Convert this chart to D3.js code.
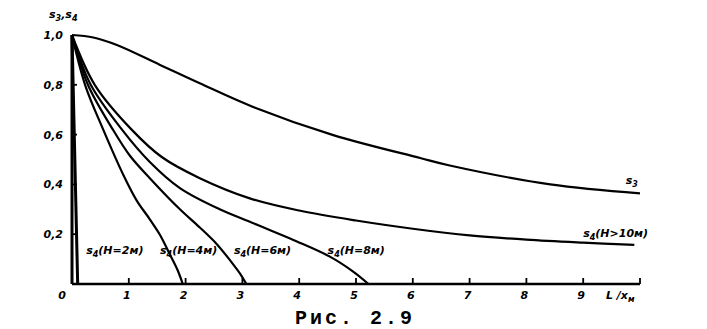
<!DOCTYPE html>
<html>
<head>
<meta charset="utf-8">
<script src="https://cdn.jsdelivr.net/npm/d3@7"></script>
<style>
  body { margin: 0; background: #fff; }
  svg text { fill: #000; }
  .lbl { font-family: "DejaVu Sans", sans-serif; font-style: italic; font-weight: bold; font-size: 11px; }
</style>
</head>
<body>
<div id="chart"></div>
<script>
// curves: [L/x, s]
const s3 = [[0,1],[0.375,0.99],[0.79,0.96],[1.55,0.88],[2.25,0.806],[3.2,0.71],[4.6,0.598],[6.13,0.506],[6.65,0.476],[8.42,0.40],[10,0.364]];
const s4H2 = [[0,1],[0.1,0]];
const s4H4 = [[0,1],[0.23,0.8],[0.55,0.62],[0.9,0.44],[1.14,0.335],[1.37,0.26],[1.55,0.197],[1.72,0.12],[1.86,0.055],[1.95,0]];
const s4H6 = [[0,1],[0.28,0.8],[0.72,0.62],[1.02,0.515],[1.37,0.425],[1.9,0.3],[2.25,0.227],[2.55,0.16],[2.8,0.09],[2.97,0.038],[3.07,0]];
const s4H8 = [[0,1],[0.33,0.8],[0.88,0.62],[1.37,0.49],[1.9,0.385],[2.6,0.3],[3.13,0.25],[3.5,0.215],[3.95,0.172],[4.54,0.11],[4.95,0.05],[5.22,0]];
const s4H10 = [[0,1],[0.4,0.8],[1.05,0.62],[1.58,0.51],[2.25,0.425],[3.13,0.344],[4,0.295],[5,0.255],[6,0.222],[7,0.195],[8,0.178],[9,0.166],[9.9,0.157]];

const xTicks = [1,2,3,4,5,6,7,8,9];
const yTicks = [0.2,0.4,0.6,0.8];
const yTickLabels = ["0,2","0,4","0,6","0,8"];

// curve labels: [text, subscript, rest, x, y]
const curveLabels = [
  ["s", "4", "(H=2м)", 0.25, 0.12],
  ["s", "4", "(H=4м)", 1.55, 0.12],
  ["s", "4", "(H=6м)", 2.85, 0.12],
  ["s", "4", "(H=8м)", 4.5, 0.12],
  ["s", "4", "(H>10м)", 9.0, 0.19],
  ["s", "3", "", 9.75, 0.40]
];

const W = 707, H = 329;
const svg = d3.select("#chart").append("svg").attr("width", W).attr("height", H);

const x = d3.scaleLinear().domain([0, 10]).range([72, 640]);
const y = d3.scaleLinear().domain([0, 1]).range([284, 35]);

const line = d3.line().x(d => x(d[0])).y(d => y(d[1])).curve(d3.curveCatmullRom.alpha(0.5));

// axes
svg.append("line").attr("x1", x(0)).attr("x2", x(0)).attr("y1", y(0)).attr("y2", y(1))
  .attr("stroke", "#000").attr("stroke-width", 3);
svg.append("line").attr("x1", x(0)).attr("x2", x(10)).attr("y1", y(0)).attr("y2", y(0))
  .attr("stroke", "#000").attr("stroke-width", 2.5);

svg.selectAll(".xt").data(xTicks.concat([10])).enter().append("line")
  .attr("x1", d => x(d)).attr("x2", d => x(d)).attr("y1", y(0)).attr("y2", y(0) - 6)
  .attr("stroke", "#000").attr("stroke-width", 1.8);
svg.selectAll(".yt").data(yTicks).enter().append("line")
  .attr("x1", x(0)).attr("x2", x(0) + 5).attr("y1", d => y(d)).attr("y2", d => y(d))
  .attr("stroke", "#000").attr("stroke-width", 1.8);

svg.selectAll(".xl").data(xTicks).enter().append("text").attr("class", "lbl")
  .attr("x", d => x(d) - 2).attr("y", y(0) + 15).attr("text-anchor", "middle").text(d => d);
svg.selectAll(".yl").data(yTicks).enter().append("text").attr("class", "lbl")
  .attr("x", x(0) - 9).attr("y", d => y(d) + 4).attr("text-anchor", "end")
  .text((d, i) => yTickLabels[i]);
svg.append("text").attr("class", "lbl").attr("x", x(0) - 9).attr("y", y(1) + 4)
  .attr("text-anchor", "end").text("1,0");
svg.append("text").attr("class", "lbl").attr("x", x(0) - 6).attr("y", y(0) + 15)
  .attr("text-anchor", "end").text("0");

// axis titles
const yt = svg.append("text").attr("class", "lbl").attr("x", 49).attr("y", 18);
yt.append("tspan").text("s");
yt.append("tspan").attr("font-size", "8px").attr("dy", 3).text("3");
yt.append("tspan").attr("dy", -3).text(",s");
yt.append("tspan").attr("font-size", "8px").attr("dy", 3).text("4");

const xt = svg.append("text").attr("class", "lbl").attr("x", 606).attr("y", y(0) + 15);
xt.append("tspan").text("L /x");
xt.append("tspan").attr("font-size", "8px").attr("dy", 3).text("м");

// curves
[s3, s4H4, s4H6, s4H8, s4H10].forEach(c => {
  svg.append("path").attr("d", line(c)).attr("fill", "none")
    .attr("stroke", "#000").attr("stroke-width", 2.2);
});
svg.append("path").attr("d", d3.line().x(d => x(d[0])).y(d => y(d[1]))(s4H2))
  .attr("fill", "none").attr("stroke", "#000").attr("stroke-width", 3);

// curve labels
curveLabels.forEach(l => {
  const t = svg.append("text").attr("class", "lbl").attr("x", x(l[3])).attr("y", y(l[4]));
  t.append("tspan").text(l[0]);
  t.append("tspan").attr("font-size", "8px").attr("dy", 3).text(l[1]);
  t.append("tspan").attr("dy", -3).text(l[2]);
});

// caption
svg.append("text").attr("x", 295).attr("y", 324)
  .attr("font-family", "'Liberation Mono', monospace").attr("font-weight", "bold")
  .attr("font-size", "20px").attr("textLength", 117).attr("lengthAdjust", "spacing")
  .text("Рис. 2.9");
</script>
</body>
</html>
